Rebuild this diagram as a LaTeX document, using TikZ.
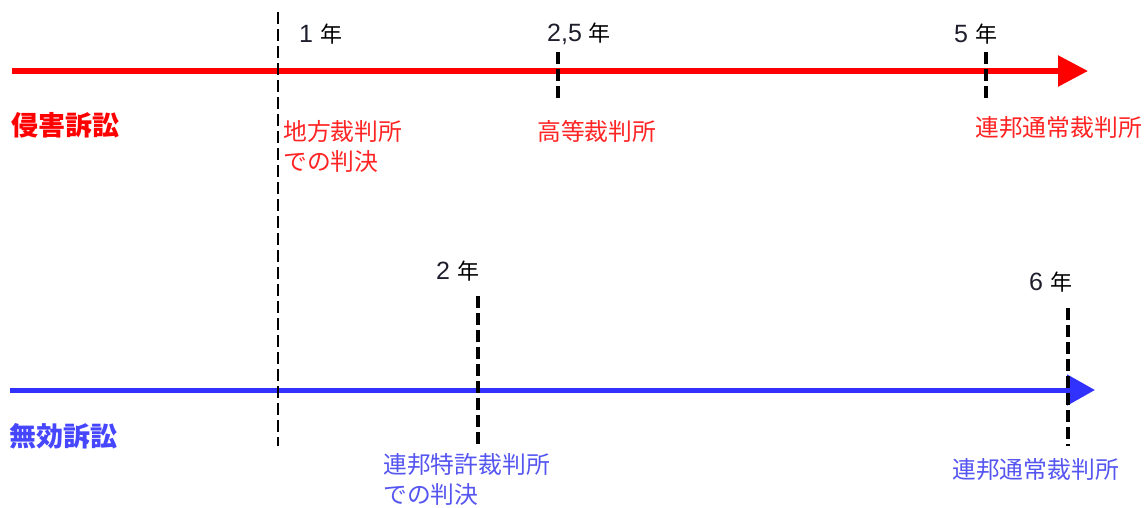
\documentclass[tikz,border=0pt]{standalone}
\usepackage{fontspec}
\setmainfont{Liberation Sans}
\newfontfamily\cjk{Noto Sans CJK JP}
\usetikzlibrary{arrows.meta}
\definecolor{axred}{RGB}{255,0,0}
\definecolor{txtred}{RGB}{255,35,35}
\definecolor{axblue}{RGB}{50,50,255}
\definecolor{txtblue}{RGB}{85,85,240}
\definecolor{digit}{RGB}{30,30,45}
\begin{document}
\begin{tikzpicture}[x=1pt,y=-1pt,
 lbl/.style={inner sep=0pt, font=\cjk\fontsize{23.8}{30}\selectfont, anchor=west, align=left},
 yr/.style={inner sep=0pt, anchor=west, font=\fontsize{25}{28}\selectfont, text=digit},
 ttl/.style={inner sep=0pt, anchor=west, font=\cjk\bfseries\fontsize{27}{32}\selectfont},
 tickline/.style={draw=black, line width=3.5pt, dash pattern=on 12pt off 5pt},
 guide/.style={draw=black, line width=1.6pt, dash pattern=on 12pt off 5pt},
 axis/.style={line width=5.5pt, -{Triangle[length=30pt,width=30pt]}},
]
\useasboundingbox (0,0) rectangle (1146,507);
% axis end points
\coordinate (rs) at (12,71);
\coordinate (re) at (1088,71);
\coordinate (bs) at (10,390);
\coordinate (be) at (1095,390);
% axes
\draw[axis, axred] (rs) -- (re);
\draw[axis, axblue, line width=5pt, -{Triangle[length=28pt,width=30pt]}] (bs) -- (be);
% guide and ticks
\coordinate (g1) at (278,12);  \coordinate (g2) at (278,446);
\coordinate (t25a) at (558,52); \coordinate (t25b) at (558,102);
\coordinate (t5a) at (986,52);  \coordinate (t5b) at (986,102);
\coordinate (t2a) at (478,296); \coordinate (t2b) at (478,446);
\coordinate (t6a) at (1068,308); \coordinate (t6b) at (1068,446);
\draw[guide] (g1) -- (g2);
\draw[tickline] (t25a) -- (t25b);
\draw[tickline] (t5a) -- (t5b);
\draw[tickline] (t2a) -- (t2b);
\draw[tickline] (t6a) -- (t6b);
% year labels
\node[yr] (y1) at (299,34) {1\ {\cjk\fontsize{22}{26}\selectfont\color{black}年}};
\node[yr] (y25) at (547,34) {2,5\ {\cjk\fontsize{22}{26}\selectfont\color{black}年}};
\node[yr] (y5) at (954,34) {5\ {\cjk\fontsize{22}{26}\selectfont\color{black}年}};
\node[yr] (y2) at (436,271) {2\ {\cjk\fontsize{22}{26}\selectfont\color{black}年}};
\node[yr] (y6) at (1029,282) {6\ {\cjk\fontsize{22}{26}\selectfont\color{black}年}};
% titles
\node[ttl, text=axred] (inf) at (11,125) {侵害訴訟};
\node[ttl, text=axblue!90!white] (inv) at (9,436) {無効訴訟};
% court labels
\node[lbl, text=txtred] (lc) at (283,146.5) {地方裁判所\\での判決};
\node[lbl, text=txtred] (hc) at (537,131) {高等裁判所};
\node[lbl, text=txtred] (fc1) at (975,127) {連邦通常裁判所};
\node[lbl, text=txtblue] (pc) at (383,479.5) {連邦特許裁判所\\での判決};
\node[lbl, text=txtblue] (fc2) at (952,469) {連邦通常裁判所};
\end{tikzpicture}
\end{document}
